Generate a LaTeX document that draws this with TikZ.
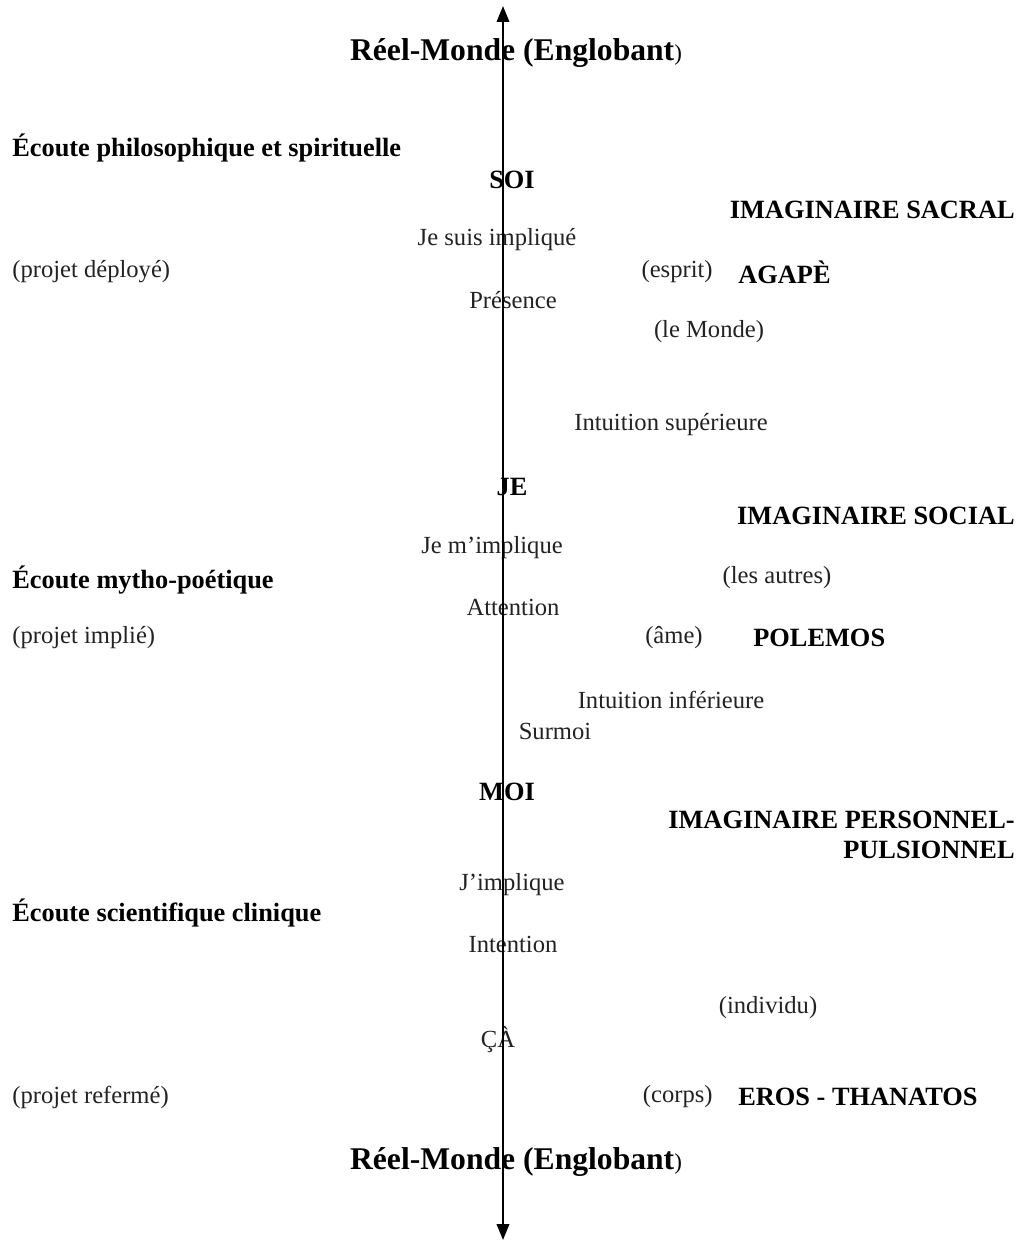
\documentclass[tikz,border=0pt]{standalone}
\usepackage{fontspec}
\setmainfont{Liberation Serif}
\usetikzlibrary{arrows.meta, positioning}
\definecolor{inkGrey}{RGB}{34,34,34}
\tikzset{
    axisArrow/.style={line width=1.3pt, {Triangle[length=9pt,width=7pt]}-{Triangle[length=9pt,width=7pt]}},
    worldLabel/.style={font=\fontsize{18}{21}\selectfont\bfseries, inner sep=0pt},
    levelLabel/.style={font=\fontsize{15}{17}\selectfont\bfseries, inner sep=0pt},
    plainLabel/.style={font=\fontsize{14}{16}\selectfont, text=inkGrey, inner sep=0pt},
}

\begin{document}
\begin{tikzpicture}[x=0.02cm, y=-0.02cm]
    \useasboundingbox (0,0) rectangle (1023,1242);

    % Top world
    \node[worldLabel] (mondeHaut) at (516,53) {Réel-Monde (Englobant{\fontsize{13}{15}\selectfont\mdseries )}};

    % SOI level
    \node[levelLabel, anchor=west] (ecoutePhilo) at (12,148) {Écoute philosophique et spirituelle};
    \node[levelLabel] (soi) at (512,180) {SOI};
    \node[levelLabel, anchor=east] (imagSacral) at (1015,210) {IMAGINAIRE SACRAL};
    \node[plainLabel] (suisImplique) at (497,240) {Je suis impliqué};
    \node[plainLabel, anchor=west] (projetDeploye) at (12,272) {(projet déployé)};
    \node[plainLabel, anchor=east] (esprit) at (713,272) {(esprit)};
    \node[levelLabel, anchor=west] (agape) at (738,272) {AGAPÈ};
    \node[plainLabel] (presence) at (513,300) {Présence};
    \node[plainLabel] (leMonde) at (709,332) {(le Monde)};
    \node[plainLabel] (intuitionSup) at (671,425) {Intuition supérieure};

    % JE level
    \node[levelLabel] (je) at (512,487) {JE};
    \node[levelLabel, anchor=east] (imagSocial) at (1015,516) {IMAGINAIRE SOCIAL};
    \node[plainLabel] (mImplique) at (492,548) {Je m’implique};
    \node[levelLabel, anchor=west] (ecouteMytho) at (12,580) {Écoute mytho-poétique};
    \node[plainLabel] (lesAutres) at (777,578) {(les autres)};
    \node[plainLabel] (attention) at (513,607) {Attention};
    \node[plainLabel, anchor=west] (projetImplie) at (12,638) {(projet implié)};
    \node[plainLabel, anchor=east] (ame) at (703,638) {(âme)};
    \node[levelLabel, anchor=west] (polemos) at (753,638) {POLEMOS};
    \node[plainLabel] (intuitionInf) at (671,700) {Intuition inférieure};
    \node[plainLabel] (surmoi) at (555,731) {Surmoi};

    % MOI level
    \node[levelLabel] (moi) at (507,792) {MOI};
    \node[levelLabel, anchor=north east, align=right] (imagPerso) at (1015,811)
        {IMAGINAIRE PERSONNEL-\\PULSIONNEL};
    \node[plainLabel] (jImplique) at (512,885) {J’implique};
    \node[levelLabel, anchor=west] (ecouteSci) at (12,913) {Écoute scientifique clinique};
    \node[plainLabel] (intention) at (513,944) {Intention};
    \node[plainLabel] (individu) at (768,1008) {(individu)};
    \node[plainLabel] (ca) at (498,1040) {ÇÀ};
    \node[plainLabel, anchor=west] (projetReferme) at (12,1097) {(projet refermé)};
    \node[plainLabel, anchor=east] (corps) at (713,1097) {(corps)};
    \node[levelLabel, anchor=west] (eros) at (738,1097) {EROS - THANATOS};

    % Bottom world
    \node[worldLabel] (mondeBas) at (516,1162) {Réel-Monde (Englobant{\fontsize{13}{15}\selectfont\mdseries )}};

    % Axis
    \coordinate (axisTop) at (503,6);
    \coordinate (axisBot) at (503,1240);
    \draw[axisArrow] (axisBot) -- (axisTop);

\end{tikzpicture}
\end{document}
